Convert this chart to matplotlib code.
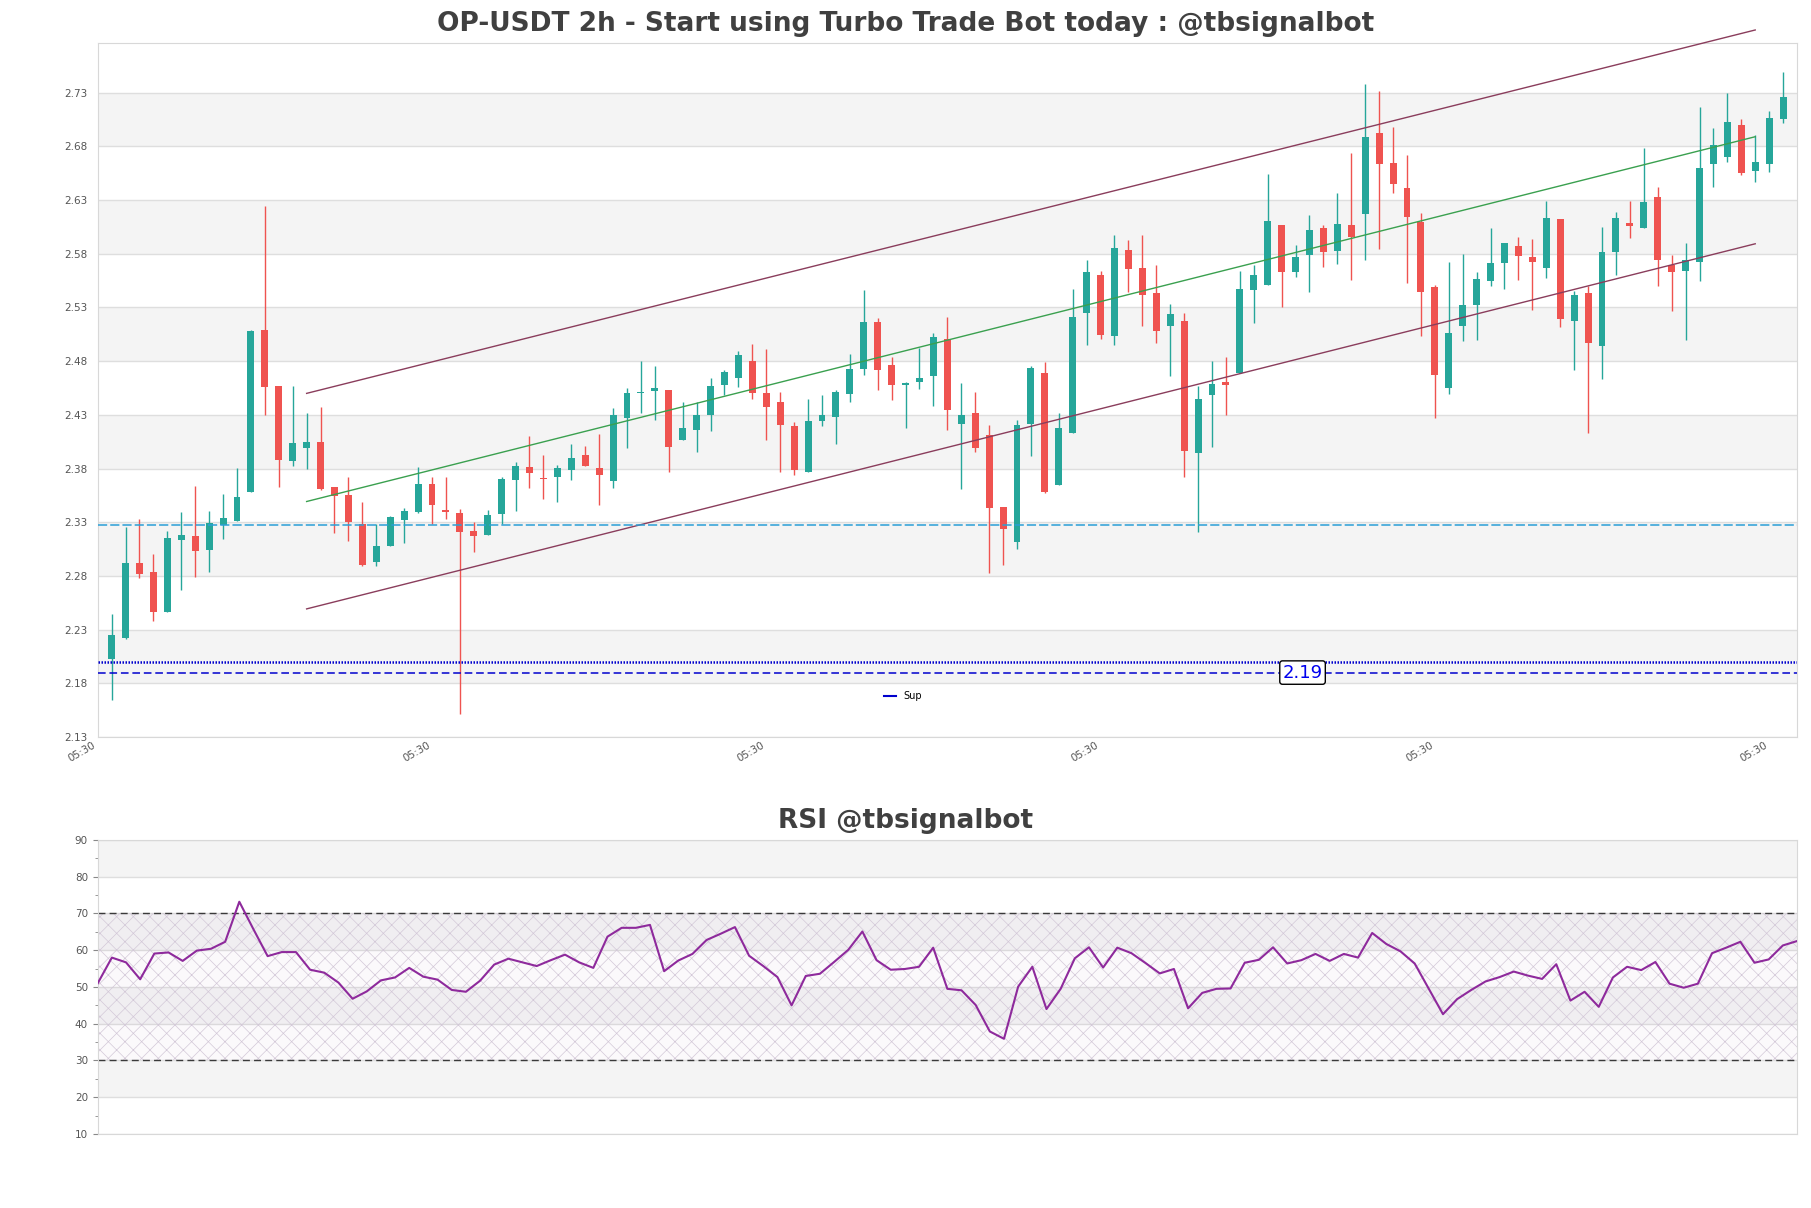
import numpy as np
import matplotlib
matplotlib.use('Agg')
import matplotlib.pyplot as plt
from matplotlib.lines import Line2D

# candles (2h)
opens = [2.2027, 2.222, 2.2917, 2.284, 2.2467, 2.3137, 2.317, 2.3037, 2.3277, 2.3307,
         2.3583, 2.509, 2.457, 2.387, 2.3993, 2.4047, 2.3627, 2.355, 2.3283, 2.2933,
         2.3077, 2.3317, 2.3393, 2.3653, 2.341, 2.339, 2.322, 2.3183, 2.3377, 2.3693,
         2.3816, 2.3713, 2.3719, 2.3784, 2.393, 2.3806, 2.3682, 2.4266, 2.4505, 2.452,
         2.4536, 2.4064, 2.4157, 2.4297, 2.4576, 2.4642, 2.4806, 2.4505, 2.4421, 2.42,
         2.3766, 2.4241, 2.4278, 2.4496, 2.4729, 2.5167, 2.476, 2.4576, 2.4604, 2.466,
         2.5002, 2.4213, 2.4319, 2.4111, 2.3443, 2.3117, 2.4213, 2.4691, 2.3648, 2.4132,
         2.5244, 2.5598, 2.5033, 2.5831, 2.567, 2.5437, 2.5126, 2.517, 2.3943, 2.4483,
         2.4607, 2.4691, 2.5461, 2.5511, 2.6064, 2.5629, 2.5788, 2.6036, 2.5825, 2.6064,
         2.6166, 2.6921, 2.6648, 2.6415, 2.6095, 2.5489, 2.4552, 2.5126, 2.5322, 2.5545,
         2.5716, 2.5871, 2.5772, 2.567, 2.6126, 2.5173, 2.5437, 2.494, 2.5819, 2.6089,
         2.6036, 2.6331, 2.5694, 2.564, 2.5725, 2.6632, 2.6704, 2.6996, 2.657, 2.6639,
         2.7058]
highs = [2.245, 2.326, 2.3327, 2.300, 2.322, 2.3393, 2.3637, 2.3407, 2.356, 2.3803,
         2.509, 2.6243, 2.457, 2.4567, 2.4317, 2.4373, 2.3627, 2.372, 2.3487, 2.3283,
         2.336, 2.3433, 2.3817, 2.372, 2.372, 2.342, 2.33, 2.341, 2.372, 2.386,
         2.4107, 2.3927, 2.3834, 2.4024, 2.4014, 2.4117, 2.4365, 2.4552, 2.4806, 2.4753,
         2.4536, 2.4421, 2.4421, 2.4639, 2.4716, 2.489, 2.4961, 2.4909, 2.4514, 2.4232,
         2.4449, 2.4489, 2.4527, 2.4871, 2.5458, 2.5204, 2.484, 2.4604, 2.4924, 2.5064,
         2.521, 2.4592, 2.4517, 2.4207, 2.3443, 2.425, 2.4753, 2.4794, 2.4319, 2.5468,
         2.5741, 2.5639, 2.5971, 2.5924, 2.5971, 2.5691, 2.5328, 2.525, 2.4573, 2.4806,
         2.4843, 2.5635, 2.5691, 2.6539, 2.6064, 2.5878, 2.6157, 2.6064, 2.6368, 2.6741,
         2.7378, 2.7316, 2.6983, 2.6716, 2.6182, 2.5505, 2.5725, 2.5794, 2.5632, 2.6036,
         2.5896, 2.5958, 2.5933, 2.6291, 2.6126, 2.5452, 2.5499, 2.6052, 2.6191, 2.6291,
         2.6788, 2.6424, 2.5788, 2.5896, 2.717, 2.6974, 2.7294, 2.7058, 2.6902, 2.7129,
         2.7496]
lows = [2.1643, 2.221, 2.2783, 2.2377, 2.2467, 2.2667, 2.2793, 2.2833, 2.3143, 2.3307,
        2.358, 2.43, 2.363, 2.3827, 2.3793, 2.36, 2.32, 2.3127, 2.2893, 2.2893,
        2.3077, 2.3103, 2.339, 2.3283, 2.3333, 2.151, 2.3027, 2.3183, 2.3283, 2.3403,
        2.362, 2.3517, 2.3486, 2.3691, 2.382, 2.3458, 2.362, 2.3993, 2.4319, 2.425,
        2.3766, 2.4064, 2.3952, 2.4148, 2.4489, 2.4561, 2.4449, 2.4064, 2.3766, 2.3744,
        2.3766, 2.4194, 2.4033, 2.4418, 2.467, 2.4527, 2.4434, 2.4173, 2.4545, 2.4387,
        2.4157, 2.361, 2.3952, 2.2827, 2.29, 2.3055, 2.3921, 2.3568, 2.3648, 2.4132,
        2.4949, 2.5008, 2.4949, 2.5446, 2.5126, 2.4971, 2.466, 2.3719, 2.3207, 2.3999,
        2.4297, 2.4691, 2.5151, 2.5505, 2.5306, 2.558, 2.5443, 2.5676, 2.5701, 2.5552,
        2.5741, 2.5847, 2.6362, 2.5524, 2.5033, 2.4272, 2.4496, 2.4986, 2.4996, 2.5499,
        2.5474, 2.5555, 2.5275, 2.5576, 2.512, 2.4713, 2.4132, 2.4635, 2.5601, 2.5949,
        2.6036, 2.5499, 2.5266, 2.4993, 2.5545, 2.6421, 2.6654, 2.6533, 2.6468, 2.6561,
        2.702]
closes = [2.2253, 2.2917, 2.2817, 2.2467, 2.315, 2.3177, 2.3033, 2.329, 2.3343, 2.3533,
          2.5083, 2.4563, 2.3877, 2.4037, 2.4047, 2.3607, 2.3543, 2.33, 2.29, 2.3077,
          2.335, 2.34, 2.3653, 2.346, 2.3397, 2.321, 2.317, 2.337, 2.37, 2.382,
          2.3757, 2.3705, 2.3806, 2.39, 2.3822, 2.3738, 2.4294, 2.4499, 2.451, 2.4552,
          2.3999, 2.4179, 2.4303, 2.4573, 2.4697, 2.4853, 2.4505, 2.4375, 2.4204, 2.3784,
          2.4247, 2.4294, 2.4514, 2.4729, 2.5167, 2.4716, 2.4576, 2.4592, 2.4645, 2.5027,
          2.4343, 2.43, 2.3993, 2.343, 2.3235, 2.4207, 2.4732, 2.358, 2.4173, 2.521,
          2.5629, 2.5039, 2.585, 2.5657, 2.5415, 2.508, 2.5241, 2.3962, 2.4443, 2.4589,
          2.4579, 2.5468, 2.5598, 2.6101, 2.5629, 2.5772, 2.6017, 2.5816, 2.6073, 2.5955,
          2.689, 2.6632, 2.6446, 2.6142, 2.5443, 2.467, 2.5064, 2.5319, 2.5561, 2.5716,
          2.5896, 2.5778, 2.5725, 2.6135, 2.5194, 2.5412, 2.4971, 2.5819, 2.6135, 2.6058,
          2.6284, 2.5741, 2.5632, 2.5741, 2.6601, 2.6809, 2.703, 2.6548, 2.6657, 2.7067,
          2.7263]

rsi = [51.0, 58.0, 56.7, 52.1, 59.1, 59.4, 57.1, 59.9, 60.4, 62.3,
       73.2, 65.7, 58.4, 59.5, 59.5, 54.7, 53.9, 51.2, 46.8, 48.8,
       51.8, 52.6, 55.2, 52.8, 52.0, 49.2, 48.7, 51.7, 56.1, 57.7,
       56.7, 55.7, 57.3, 58.8, 56.7, 55.2, 63.7, 66.1, 66.1, 66.9,
       54.3, 57.2, 59.0, 62.8, 64.5, 66.3, 58.5, 55.7, 52.7, 45.0,
       53.0, 53.6, 56.8, 60.1, 65.1, 57.3, 54.7, 54.9, 55.5, 60.7,
       49.5, 49.1, 45.1, 37.9, 35.9, 50.1, 55.5, 44.0, 49.5, 57.8,
       60.8, 55.3, 60.7, 59.2, 56.5, 53.7, 54.9, 44.2, 48.4, 49.5,
       49.6, 56.6, 57.4, 60.8, 56.4, 57.3, 59.0, 57.1, 59.0, 58.0,
       64.7, 61.7, 59.7, 56.4, 49.5, 42.6, 46.7, 49.2, 51.5, 52.7,
       54.2, 53.1, 52.2, 56.2, 46.3, 48.7, 44.6, 52.6, 55.5, 54.6,
       56.8, 50.9, 49.8, 50.9, 59.2, 60.7, 62.3, 56.6, 57.5, 61.3,
       62.5]

price_ticks = [2.13, 2.18, 2.23, 2.28, 2.33, 2.38, 2.43, 2.48, 2.53, 2.58, 2.63, 2.68, 2.73]
time_ticks = [0, 24, 48, 72, 96, 120]
time_labels = ['05:30', '05:30', '05:30', '05:30', '05:30', '05:30']
rsi_ticks = [10, 20, 30, 40, 50, 60, 70, 80, 90]

# regression channel (start / end candle)
channel_x = [15, 119]
channel_upper = [2.45, 2.7884]
channel_mid = [2.3493, 2.689]
channel_lower = [2.2493, 2.5893]

cyan_level = 2.327
sup_dot_level = 2.200
sup_level = 2.19

title = 'OP-USDT 2h - Start using Turbo Trade Bot today : @tbsignalbot'
rsi_title = 'RSI @tbsignalbot'

GREEN = '#26a69a'
RED = '#ef5350'
BAND = '#f4f4f4'
GRID = '#dedede'
SPINE = '#d8d8d8'
LABEL = '#555555'

fig = plt.figure(figsize=(18.11, 12.08), dpi=100)
ax = fig.add_axes([0.05395, 0.3899, 0.93832, 0.57426])
ax2 = fig.add_axes([0.05395, 0.06126, 0.93832, 0.24338])

# ---- price panel ----
o = np.array(opens)
h = np.array(highs)
l = np.array(lows)
c = np.array(closes)
x = np.arange(1, len(o) + 1)
cols = np.where(c >= o, GREEN, RED)

for i in range(0, len(price_ticks) - 2, 2):
    ax.axhspan(price_ticks[i + 1], price_ticks[i + 2], color=BAND, lw=0, zorder=0)
for t in price_ticks:
    ax.axhline(t, color=GRID, lw=1, zorder=0.5)

ax.vlines(x, l, h, colors=cols, lw=1, zorder=2)
ax.bar(x, np.maximum(np.abs(c - o), 0.0008), bottom=np.minimum(o, c), width=0.5,
       color=cols, lw=0, zorder=2.5)

# channel lines are not clipped (upper one runs past the top of the axes)
ax.plot(channel_x, channel_upper, color='#8a3d5c', lw=1, zorder=3, clip_on=False)
ax.plot(channel_x, channel_mid, color='#3aa04f', lw=1, zorder=3, clip_on=False)
ax.plot(channel_x, channel_lower, color='#8a3d5c', lw=1, zorder=3, clip_on=False)

ax.axhline(cyan_level, color='#2a9fd6', lw=1.1, ls=(0, (6, 2)), zorder=3)
ax.axhline(sup_dot_level, color='#0000cd', lw=1.8, ls=(0, (0.6, 0.6)), zorder=3)
ax.axhline(sup_level, color='#0000cd', lw=1.1, ls=(0, (5, 2.5)), zorder=3)
ax.text(86.5, sup_level, '%.2f' % sup_level, color='#0000ee', fontsize=13,
        ha='center', va='center', zorder=4,
        bbox=dict(boxstyle='round,pad=0.15', fc='white', ec='black', lw=1))

ax.legend([Line2D([0], [0], color='#0000cd', lw=1.5)], ['Sup'], loc='center',
          bbox_to_anchor=(0.474, 0.059), frameon=False, fontsize=7, handlelength=1.2)

ax.set_xlim(0, 122)
ax.set_ylim(2.13, 2.776)
ax.set_yticks(price_ticks)
ax.set_yticklabels(['%.2f' % t for t in price_ticks])
ax.set_xticks(time_ticks)
ax.set_xticklabels(time_labels, rotation=30, ha='right', va='top')
ax.tick_params(axis='both', length=0, labelsize=7.5, colors=LABEL, pad=7)
ax.tick_params(axis='x', pad=2)
for s in ax.spines.values():
    s.set_color(SPINE)

# ---- rsi panel ----
xr = np.arange(len(rsi))
for lo, hi in [(80, 90), (60, 70), (40, 50), (20, 30)]:
    ax2.axhspan(lo, hi, color=BAND, lw=0, zorder=0)
for t in rsi_ticks:
    ax2.axhline(t, color=GRID, lw=1, zorder=0.5)
plt.rcParams['hatch.linewidth'] = 0.5
ax2.fill_between([0, len(rsi) - 1], 30, 70, facecolor=(0.55, 0.3, 0.6, 0.03),
                 edgecolor='#d3c8d8', hatch='xx', lw=0, zorder=1)
ax2.axhline(70, color='#3a3a3a', lw=1.0, ls=(0, (5, 3)), zorder=2)
ax2.axhline(30, color='#3a3a3a', lw=1.0, ls=(0, (5, 3)), zorder=2)
ax2.plot(xr, rsi, color='#8e2a9c', lw=1.5, zorder=3)

ax2.set_xlim(0, len(rsi) - 1)
ax2.set_ylim(10, 90)
ax2.set_yticks(rsi_ticks)
ax2.set_yticks(np.arange(15, 90, 10), minor=True)
ax2.set_xticks([])
ax2.tick_params(axis='y', which='both', labelsize=7.5, colors=LABEL)
ax2.tick_params(axis='y', which='major', color='#888888')
ax2.tick_params(axis='y', which='minor', color='#888888')
for s in ax2.spines.values():
    s.set_color(SPINE)

fig.text(0.5, 0.9800, title, ha='center', va='center', fontsize=19,
         fontweight='bold', color='#404040')
fig.text(0.5, 0.3205, rsi_title, ha='center', va='center', fontsize=19,
         fontweight='bold', color='#404040')

fig.savefig('out.png', dpi=100)
